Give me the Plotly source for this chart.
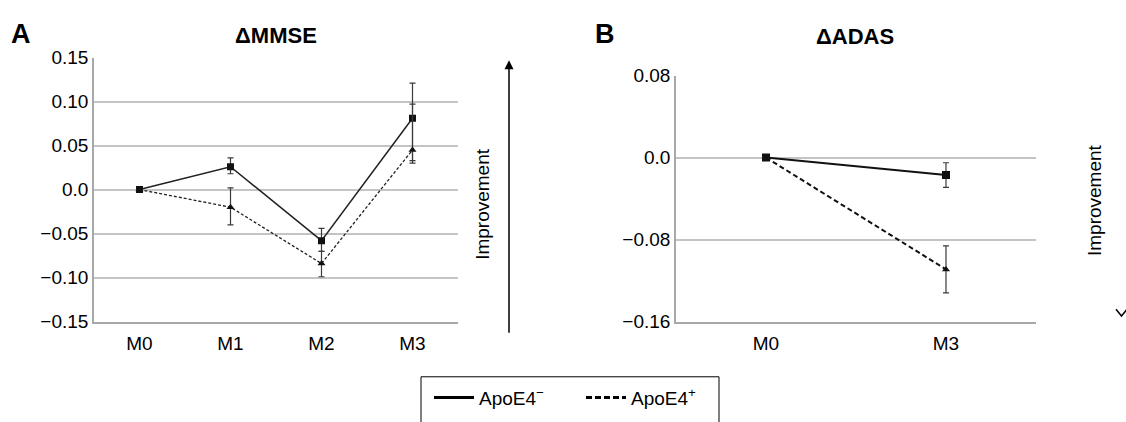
import plotly.graph_objects as go

# ---- data ----
months_a = ["M0", "M1", "M2", "M3"]
mmse_neg = [0.0, 0.026, -0.058, 0.081]
mmse_neg_err_plus = [0.0, 0.010, 0.014, 0.040]
mmse_neg_err_minus = [0.0, 0.008, 0.012, 0.048]
mmse_pos = [0.0, -0.020, -0.084, 0.045]
mmse_pos_err_plus = [0.0, 0.022, 0.014, 0.052]
mmse_pos_err_minus = [0.0, 0.020, 0.015, 0.015]

months_b = ["M0", "M3"]
adas_neg = [0.0, -0.017]
adas_neg_err = [0.0, 0.012]
adas_pos = [0.0, -0.109]
adas_pos_err = [0.0, 0.023]

ticks_a = [0.15, 0.10, 0.05, 0.0, -0.05, -0.10, -0.15]
ticklabels_a = ["0.15", "0.10", "0.05", "0.0", "\u22120.05", "\u22120.10", "\u22120.15"]
ticks_b = [0.08, 0.0, -0.08, -0.16]
ticklabels_b = ["0.08", "0.0", "\u22120.08", "\u22120.16"]

legend_names = ["ApoE4<sup>\u2212</sup>", "ApoE4<sup>+</sup>"]

FONT = "Liberation Sans, Arial, sans-serif"
W, H = 1126, 422
def px(x): return x / W
def py(y): return 1 - y / H

fig = go.Figure()

err_col = "#3a3a3a"
# Panel A
fig.add_trace(go.Scatter(
    x=months_a, y=mmse_neg, xaxis="x", yaxis="y", mode="lines+markers",
    line=dict(color="#222", width=1.5),
    marker=dict(symbol="square", size=7, color="#111"),
    error_y=dict(type="data", symmetric=False, array=mmse_neg_err_plus,
                 arrayminus=mmse_neg_err_minus, color=err_col, thickness=1.2, width=3),
    showlegend=False))
fig.add_trace(go.Scatter(
    x=months_a, y=mmse_pos, xaxis="x", yaxis="y", mode="lines+markers",
    line=dict(color="#222", width=1.3, dash="3px,2px"),
    marker=dict(symbol="triangle-up", size=7, color="#111"),
    error_y=dict(type="data", symmetric=False, array=mmse_pos_err_plus,
                 arrayminus=mmse_pos_err_minus, color=err_col, thickness=1.2, width=3),
    showlegend=False))

# Panel B
fig.add_trace(go.Scatter(
    x=months_b, y=adas_neg, xaxis="x2", yaxis="y2", mode="lines+markers",
    line=dict(color="#111", width=2),
    marker=dict(symbol="square", size=8, color="#111"),
    error_y=dict(type="data", array=adas_neg_err, color=err_col, thickness=1.2, width=3),
    showlegend=False))
fig.add_trace(go.Scatter(
    x=months_b, y=adas_pos, xaxis="x2", yaxis="y2", mode="lines+markers",
    line=dict(color="#111", width=2, dash="5px,3px"),
    marker=dict(symbol="triangle-up", size=7, color="#111"),
    error_y=dict(type="data", array=adas_pos_err, color=err_col, thickness=1.2, width=3),
    showlegend=False))

# legend entries (lines only)
fig.add_trace(go.Scatter(x=[None], y=[None], mode="lines", name=legend_names[0],
                         line=dict(color="#000", width=3), xaxis="x", yaxis="y"))
fig.add_trace(go.Scatter(x=[None], y=[None], mode="lines", name=legend_names[1],
                         line=dict(color="#000", width=3, dash="6px,3px"), xaxis="x", yaxis="y"))

grid_col = "#c4c4c4"
axis_col = "#a8a8a8"
tickfont = dict(family=FONT, size=19, color="#000")

xa_common = dict(type="category", showgrid=False, showline=True, linecolor=axis_col,
                 linewidth=1.5, ticks="", tickfont=tickfont, zeroline=False,
                 ticklabelstandoff=4, fixedrange=True)
ya_common = dict(showgrid=True, gridcolor=grid_col, gridwidth=1.5, showline=True,
                 linecolor=axis_col, linewidth=1.5, ticks="", tickfont=tickfont,
                 zeroline=False, tickmode="array", fixedrange=True)

fig.update_layout(
    width=W, height=H,
    margin=dict(l=0, r=0, t=0, b=0),
    paper_bgcolor="white", plot_bgcolor="white",
    font=dict(family=FONT, size=19, color="#000"),
    xaxis=dict(domain=[px(94), px(458)], range=[-0.5, 3.5], anchor="y", **xa_common),
    yaxis=dict(domain=[py(328), py(50)], range=[-0.15, 0.15], anchor="x",
               tickvals=ticks_a, ticktext=ticklabels_a, **ya_common),
    xaxis2=dict(domain=[px(676), px(1036)], range=[-0.5, 1.5], anchor="y2", **xa_common),
    yaxis2=dict(domain=[py(328), py(69)], range=[-0.16, 0.08], anchor="x2",
                tickvals=ticks_b, ticktext=ticklabels_b, **ya_common),
    legend=dict(orientation="h", x=px(429), y=py(388), xanchor="left", yanchor="top",
                borderwidth=0, bgcolor="rgba(0,0,0,0)",
                font=dict(family=FONT, size=19, color="#000"),
                entrywidth=97, entrywidthmode="pixels", itemwidth=40,
                traceorder="normal"),
    shapes=[
        dict(type="rect", xref="paper", yref="paper",
             x0=px(421), x1=px(719), y0=py(386), y1=py(440),
             line=dict(color="#000", width=1), fillcolor="rgba(0,0,0,0)", layer="below"),
        # partially visible downward arrow head at the right edge (panel B)
        dict(type="path", xref="paper", yref="paper",
             path="M %f,%f L %f,%f L %f,%f" % (px(1116), py(315), px(1121.5), py(322),
                                                 px(1127), py(315)),
             line=dict(color="#000", width=1.5)),
    ],
)

ann = [
    dict(text="<b>A</b>", x=px(9), y=py(25), xanchor="left", yanchor="middle",
         font=dict(size=27, family=FONT)),
    dict(text="<b>\u0394MMSE</b>", x=px(276), y=py(27), xanchor="center", yanchor="middle",
         font=dict(size=22, family=FONT)),
    dict(text="<b>B</b>", x=px(593), y=py(25), xanchor="left", yanchor="middle",
         font=dict(size=27, family=FONT)),
    dict(text="<b>\u0394ADAS</b>", x=px(855), y=py(28), xanchor="center", yanchor="middle",
         font=dict(size=22, family=FONT)),
    dict(text="Improvement", x=px(483), y=py(204), textangle=-90, xanchor="center",
         yanchor="middle", font=dict(size=19, family=FONT)),
    dict(text="Improvement", x=px(1094), y=py(200), textangle=-90, xanchor="center",
         yanchor="middle", font=dict(size=19, family=FONT)),
]
for a in ann:
    a.update(xref="paper", yref="paper", showarrow=False)
fig.update_layout(annotations=ann)

# upward "Improvement" arrow for panel A (head at x,y; tail offset in pixels)
fig.add_annotation(x=px(509), y=py(53), ax=0, ay=274, xref="paper", yref="paper",
                   axref="pixel", ayref="pixel", text="", showarrow=True,
                   arrowhead=2, arrowsize=1.2, arrowwidth=1.5, arrowcolor="#000")

fig.write_html("out.html", config={"displayModeBar": False},
               post_script="document.body.style.margin='0';")
